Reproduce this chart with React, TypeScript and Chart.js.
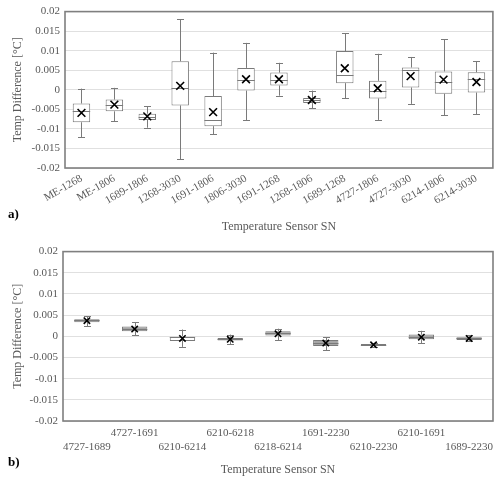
import React, { useEffect, useRef } from "react";
import { Chart, registerables } from "chart.js";

Chart.register(...registerables);

// ---------- Panel a ----------
const A_LABELS = [
  "ME-1268", "ME-1806", "1689-1806", "1268-3030", "1691-1806", "1806-3030", "1691-1268",
  "1268-1806", "1689-1268", "4727-1806", "4727-3030", "6214-1806", "6214-3030",
];
const A_LOW = [-0.0121, -0.0081, -0.0097, -0.0177, -0.0114, -0.0078, -0.0015, -0.0047, -0.0021, -0.0077, -0.0036, -0.0065, -0.0062];
const A_Q1 = [-0.0083, -0.0055, -0.0077, -0.004, -0.0093, -0.0002, 0.0011, -0.0034, 0.0017, -0.0022, 0.0006, -0.001, -0.0007];
const A_MED = [-0.0053, -0.0039, -0.0069, 0.0005, -0.0077, 0.0024, 0.0025, -0.0026, 0.0039, -0.0004, 0.0051, 0.002, 0.0028];
const A_Q3 = [-0.0035, -0.0025, -0.0061, 0.0073, -0.0016, 0.0056, 0.0044, -0.0021, 0.0099, 0.0023, 0.0057, 0.0047, 0.0045];
const A_HIGH = [0.0003, 0.0005, -0.0042, 0.0181, 0.0095, 0.012, 0.0069, -0.0002, 0.0145, 0.0092, 0.0084, 0.0129, 0.0073];
const A_MEAN = [-0.0059, -0.0038, -0.0068, 0.001, -0.0057, 0.0027, 0.0027, -0.0026, 0.0055, 0.0004, 0.0035, 0.0026, 0.002];
const A_FILL = A_LABELS.map(() => "#ffffff");

// ---------- Panel b ----------
const B_LABELS = [
  "4727-1689", "4727-1691", "6210-6214", "6210-6218", "6218-6214",
  "1691-2230", "6210-2230", "6210-1691", "1689-2230",
];
const B_LOW = [0.0024, 0.0002, -0.0025, -0.0019, -0.0009, -0.0033, -0.0025, -0.0016, -0.0012];
const B_Q1 = [0.0033, 0.0012, -0.0011, -0.001, 0.0002, -0.0023, -0.0023, -0.0007, -0.0009];
const B_MED = [0.0038, 0.0018, -0.0002, -0.0007, 0.0007, -0.0016, -0.002, -0.0001, -0.0005];
const B_Q3 = [0.004, 0.0023, 0.0, -0.0004, 0.0012, -0.0009, -0.0018, 0.0004, -0.0002];
const B_HIGH = [0.0047, 0.0033, 0.0016, 0.0004, 0.0018, -0.0002, -0.0015, 0.0013, 0.0002];
const B_MEAN = [0.0037, 0.0017, -0.0005, -0.0007, 0.0006, -0.0016, -0.002, -0.0002, -0.0005];
const B_FILL = ["#a6a6a6", "#a6a6a6", "#ffffff", "#a6a6a6", "#a6a6a6", "#a6a6a6", "#a6a6a6", "#a6a6a6", "#a6a6a6"];

const Y_TICKS = [-0.02, -0.015, -0.01, -0.005, 0, 0.005, 0.01, 0.015, 0.02];

const FONT = "'Liberation Serif', 'Times New Roman', serif";
const TEXT = "#595959";
const LINE = "#7a7a7a";

type Panel = {
  labels: string[];
  low: number[];
  q1: number[];
  med: number[];
  q3: number[];
  high: number[];
  mean: number[];
  fill: string[];
  yWidth: number;
  padTop: number;
  padRight: number;
  xHeight: number;
  rotation: number;
  stagger: boolean;
  tickPad: number;
  titlePadBottom: number;
  tag: string;
  tagY: number;
  meanRadius: number;
};

function buildChart(canvas: HTMLCanvasElement, p: Panel) {
  const boxParts = {
    id: "boxParts",
    afterDatasetDraw(chart: any, args: any) {
      if (args.index !== 0) return;
      const meta = chart.getDatasetMeta(0);
      const ys = chart.scales.y;
      const ctx = chart.ctx as CanvasRenderingContext2D;
      ctx.save();
      ctx.strokeStyle = LINE;
      ctx.lineWidth = 1;
      meta.data.forEach((bar: any, i: number) => {
        const x = Math.round(bar.x) + 0.5;
        const w = bar.width;
        const yLow = ys.getPixelForValue(p.low[i]);
        const yQ1 = ys.getPixelForValue(p.q1[i]);
        const yMed = ys.getPixelForValue(p.med[i]);
        const yQ3 = ys.getPixelForValue(p.q3[i]);
        const yHigh = ys.getPixelForValue(p.high[i]);
        ctx.beginPath();
        ctx.moveTo(x, yHigh);
        ctx.lineTo(x, yQ3);
        ctx.moveTo(x, yQ1);
        ctx.lineTo(x, yLow);
        ctx.moveTo(x - 3.5, Math.round(yHigh) + 0.5);
        ctx.lineTo(x + 3.5, Math.round(yHigh) + 0.5);
        ctx.moveTo(x - 3.5, Math.round(yLow) + 0.5);
        ctx.lineTo(x + 3.5, Math.round(yLow) + 0.5);
        ctx.moveTo(bar.x - w / 2, Math.round(yMed) + 0.5);
        ctx.lineTo(bar.x + w / 2, Math.round(yMed) + 0.5);
        ctx.stroke();
      });
      ctx.restore();
    },
    afterDraw(chart: any) {
      const ctx = chart.ctx as CanvasRenderingContext2D;
      const a = chart.chartArea;
      ctx.save();
      ctx.strokeStyle = "#7f7f7f";
      ctx.lineWidth = 1.6;
      ctx.strokeRect(a.left, a.top, a.right - a.left, a.bottom - a.top);
      ctx.fillStyle = "#000000";
      ctx.font = `bold 13px ${FONT}`;
      ctx.textBaseline = "middle";
      ctx.textAlign = "left";
      ctx.fillText(p.tag, 8, p.tagY);
      ctx.restore();
    },
  };

  return new Chart(canvas, {
    type: "bar",
    data: {
      labels: p.labels,
      datasets: [
        {
          type: "bar",
          data: p.q1.map((v, i) => [v, p.q3[i]]) as any,
          backgroundColor: p.fill,
          borderColor: LINE,
          borderWidth: 1,
          borderSkipped: false,
          barPercentage: 0.53,
          categoryPercentage: 1,
          order: 2,
        } as any,
        {
          type: "line",
          data: p.mean,
          showLine: false,
          pointStyle: "crossRot",
          pointRadius: p.meanRadius,
          pointHoverRadius: p.meanRadius,
          pointBorderColor: "#000000",
          pointBackgroundColor: "#000000",
          pointBorderWidth: 1.6,
          order: 1,
        } as any,
      ],
    },
    options: {
      responsive: false,
      animation: false,
      devicePixelRatio: 1,
      layout: { padding: { top: p.padTop, right: p.padRight, left: 0, bottom: 0 } },
      plugins: {
        legend: { display: false },
        tooltip: { enabled: false },
        title: { display: false },
      },
      scales: {
        x: {
          type: "category",
          offset: true,
          grid: { display: false, drawTicks: false },
          border: { display: false },
          ticks: {
            autoSkip: false,
            minRotation: p.rotation,
            maxRotation: p.rotation,
            padding: p.tickPad,
            color: TEXT,
            font: { family: FONT, size: 11 },
            callback: function (this: any, value: any, index: number) {
              const label = this.getLabelForValue(value);
              if (!p.stagger) return label;
              return index % 2 === 0 ? ["", label] : [label, ""];
            },
          },
          title: {
            display: true,
            text: "Temperature Sensor SN",
            color: TEXT,
            font: { family: FONT, size: 12 },
            padding: { top: 0, bottom: p.titlePadBottom },
          },
          afterFit: (scale: any) => {
            scale.height = p.xHeight;
          },
        },
        y: {
          type: "linear",
          min: -0.02,
          max: 0.02,
          grid: { color: "#e0e0e0", lineWidth: 1, drawTicks: false },
          border: { display: false },
          afterBuildTicks: (scale: any) => {
            scale.ticks = Y_TICKS.map((v) => ({ value: v }));
          },
          ticks: {
            padding: 5,
            color: TEXT,
            font: { family: FONT, size: 11 },
            callback: (v: any) => String(Number(Number(v).toFixed(3))),
          },
          title: {
            display: true,
            text: "Temp Difference [°C]",
            color: TEXT,
            font: { family: FONT, size: 12 },
            padding: { top: 11, bottom: 0 },
          },
          afterFit: (scale: any) => {
            scale.width = p.yWidth;
          },
        },
      },
    },
    plugins: [boxParts as any],
  } as any);
}

const PANEL_A: Panel = {
  labels: A_LABELS, low: A_LOW, q1: A_Q1, med: A_MED, q3: A_Q3, high: A_HIGH, mean: A_MEAN, fill: A_FILL,
  yWidth: 65, padTop: 9, padRight: 5, xHeight: 72, rotation: 30, stagger: false,
  tickPad: 4, titlePadBottom: 6, tag: "a)", tagY: 215, meanRadius: 5.5,
};

const PANEL_B: Panel = {
  labels: B_LABELS, low: B_LOW, q1: B_Q1, med: B_MED, q3: B_Q3, high: B_HIGH, mean: B_MEAN, fill: B_FILL,
  yWidth: 63, padTop: 9, padRight: 7, xHeight: 61, rotation: 0, stagger: true,
  tickPad: 6, titlePadBottom: 5, tag: "b)", tagY: 223, meanRadius: 4.5,
};

export default function App() {
  const refA = useRef<HTMLCanvasElement | null>(null);
  const refB = useRef<HTMLCanvasElement | null>(null);

  useEffect(() => {
    const ca = refA.current ? buildChart(refA.current, PANEL_A) : null;
    const cb = refB.current ? buildChart(refB.current, PANEL_B) : null;
    return () => {
      ca?.destroy();
      cb?.destroy();
    };
  }, []);

  return (
    <div style={{ position: "fixed", left: 0, top: 0, width: 500, height: 482, background: "#ffffff" }}>
      <canvas ref={refA} width={500} height={240} style={{ display: "block", width: 500, height: 240 }} />
      <canvas ref={refB} width={500} height={242} style={{ display: "block", width: 500, height: 242 }} />
    </div>
  );
}
